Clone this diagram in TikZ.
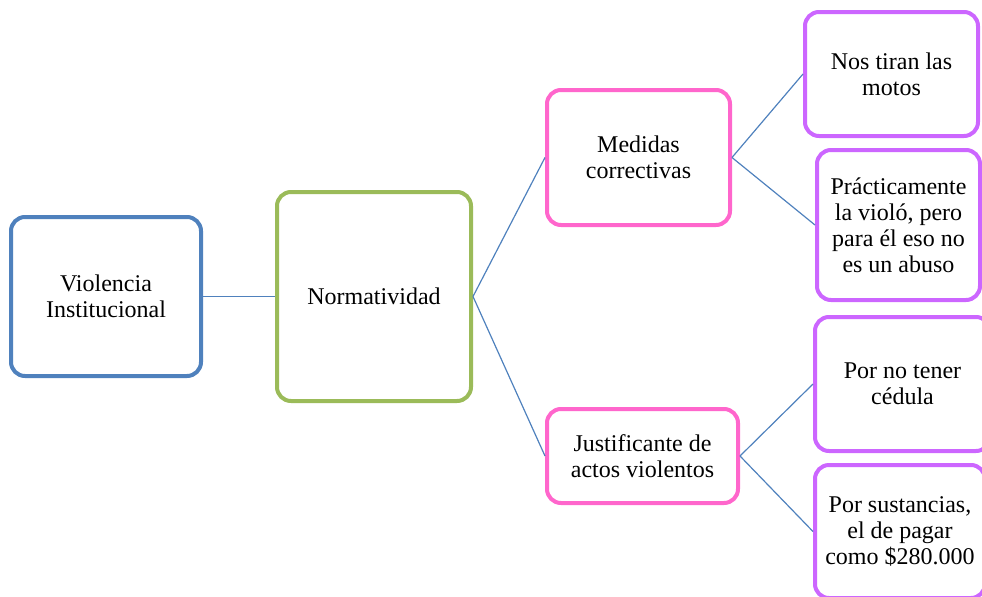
\documentclass[tikz,border=0pt]{standalone}
\usepackage{fontspec}
\setmainfont{Liberation Serif}
\definecolor{cblue}{HTML}{4F81BD}
\definecolor{cgreen}{HTML}{9BBB59}
\definecolor{cpink}{HTML}{FF66CC}
\definecolor{cpurple}{HTML}{CC66FF}
\tikzset{
  box/.style={draw, line width=2pt, rounded corners=7pt, fill=white, align=center,
    font=\fontsize{12}{13}\selectfont, inner sep=0pt},
  conn/.style={draw=cblue, line width=0.6pt},
}
\begin{document}
\begin{tikzpicture}[x=0.5pt,y=-0.5pt]
\clip (0,0) rectangle (982,596);
\node[box, draw=cblue, minimum width=95pt, minimum height=79.5pt] (vi) at (106,296.5) {Violencia\\Institucional};
\node[box, draw=cgreen, minimum width=97pt, minimum height=104.5pt] (no) at (374,296.5) {Normatividad};
\node[box, draw=cpink, minimum width=91.5pt, minimum height=67.5pt] (me) at (638.5,157.5) {Medidas\\correctivas};
\node[box, draw=cpink, minimum width=95.5pt, minimum height=47pt] (ju) at (642.5,456) {Justificante de\\actos violentos};
\node[box, draw=cpurple, minimum width=86.5pt, minimum height=62pt] (nt) at (891.5,74) {Nos tiran las\\motos};
\node[box, draw=cpurple, minimum width=81.5pt, minimum height=75pt] (pr) at (898.5,225) {Prácticamente\\la violó, pero\\para él eso no\\es un abuso};
\node[box, draw=cpurple, minimum width=87.5pt, minimum height=67pt] (pc) at (902.5,384) {Por no tener\\cédula};
\node[box, draw=cpurple, minimum width=85pt, minimum height=66.5pt] (ps) at (900,531.5) {Por sustancias,\\el de pagar\\como \$280.000};
\path[conn] (vi.east) -- (no.west);
\path[conn] (no.east) -- (me.west);
\path[conn] (no.east) -- (ju.west);
\path[conn] (me.east) -- (nt.west);
\path[conn] (me.east) -- (pr.west);
\path[conn] (ju.east) -- (pc.west);
\path[conn] (ju.east) -- (ps.west);
\end{tikzpicture}
\end{document}
